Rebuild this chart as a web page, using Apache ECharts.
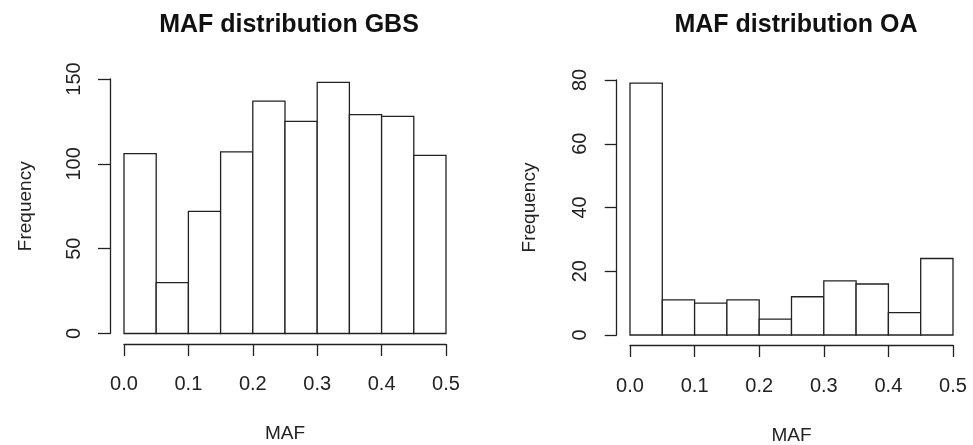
<!DOCTYPE html>
<html>
<head>
<meta charset="utf-8">
<script src="https://cdn.jsdelivr.net/npm/echarts@6/dist/echarts.min.js"></script>
<style>
html,body{margin:0;padding:0;background:#fff;}
#chart{width:973px;height:445px;}
</style>
</head>
<body>
<div id="chart"></div>
<script>
// Bin edges (MAF)
const binEdges = [0, 0.05, 0.1, 0.15, 0.2, 0.25, 0.3, 0.35, 0.4, 0.45, 0.5];
// Frequencies per bin
const gbsCounts = [106, 30, 72, 107, 137, 125, 148, 129, 128, 105];
const oaCounts = [79, 11, 10, 11, 5, 12, 17, 16, 7, 24];
const xTicks = [0.0, 0.1, 0.2, 0.3, 0.4, 0.5];
const gbsYTicks = [0, 50, 100, 150];
const oaYTicks = [0, 20, 40, 60, 80];
const titles = ['MAF distribution GBS', 'MAF distribution OA'];

const FONT = '"Liberation Sans", Arial, Helvetica, sans-serif';
const INK = '#222';

function binData(counts) {
  return counts.map((c, i) => [binEdges[i], binEdges[i + 1], c]);
}

function renderItem(params, api) {
  const p0 = api.coord([api.value(0), api.value(2)]);
  const p1 = api.coord([api.value(1), 0]);
  return {
    type: 'rect',
    shape: { x: p0[0], y: p0[1], width: p1[0] - p0[0], height: p1[1] - p0[1] },
    style: { fill: '#fff', stroke: INK, lineWidth: 1.3 }
  };
}

function xAxisCfg(gridIndex, offset, margin, nameGap) {
  return {
    type: 'value', gridIndex: gridIndex,
    min: xTicks[0], max: xTicks[xTicks.length - 1], interval: 0.1,
    offset: offset,
    name: 'MAF', nameLocation: 'middle', nameGap: nameGap,
    nameTextStyle: { fontFamily: FONT, fontSize: 19, color: INK },
    axisLine: { show: true, onZero: false, lineStyle: { color: INK, width: 1.3 } },
    axisTick: { show: true, length: 12, lineStyle: { color: INK, width: 1.3 } },
    axisLabel: { fontFamily: FONT, fontSize: 20, color: INK, margin: margin,
      formatter: v => v.toFixed(1) },
    splitLine: { show: false }
  };
}

function yAxisCfg(gridIndex, ticks, offset, nameGap) {
  return {
    type: 'value', gridIndex: gridIndex,
    min: ticks[0], max: ticks[ticks.length - 1], interval: ticks[1] - ticks[0],
    offset: offset,
    name: 'Frequency', nameLocation: 'middle', nameGap: nameGap, nameRotate: 90,
    nameTextStyle: { fontFamily: FONT, fontSize: 19, color: INK },
    axisLine: { show: true, onZero: false, lineStyle: { color: INK, width: 1.3 } },
    axisTick: { show: true, length: 12, lineStyle: { color: INK, width: 1.3 } },
    axisLabel: { fontFamily: FONT, fontSize: 20, color: INK, margin: 26, rotate: 90 },
    splitLine: { show: false }
  };
}

const chart = echarts.init(document.getElementById('chart'), null, { renderer: 'canvas' });
chart.setOption({
  animation: false,
  backgroundColor: '#fff',
  title: [
    { text: titles[0], left: 284, top: 8, textAlign: 'center',
      textStyle: { fontFamily: FONT, fontSize: 25, fontWeight: 'bold', color: '#111' } },
    { text: titles[1], left: 791, top: 8, textAlign: 'center',
      textStyle: { fontFamily: FONT, fontSize: 25, fontWeight: 'bold', color: '#111' } }
  ],
  grid: [
    { left: 124, right: 527, top: 79, bottom: 111.5, containLabel: false, outerBoundsMode: 'none' },
    { left: 630, right: 20, top: 80, bottom: 110, containLabel: false, outerBoundsMode: 'none' }
  ],
  xAxis: [xAxisCfg(0, 10.5, 30, 80), xAxisCfg(1, 10, 31, 81)],
  yAxis: [yAxisCfg(0, gbsYTicks, 14, 75), yAxisCfg(1, oaYTicks, 13.3, 77)],
  series: [
    { type: 'custom', xAxisIndex: 0, yAxisIndex: 0, renderItem: renderItem,
      encode: { x: [0, 1], y: 2 }, data: binData(gbsCounts) },
    { type: 'custom', xAxisIndex: 1, yAxisIndex: 1, renderItem: renderItem,
      encode: { x: [0, 1], y: 2 }, data: binData(oaCounts) }
  ]
});
</script>
</body>
</html>
